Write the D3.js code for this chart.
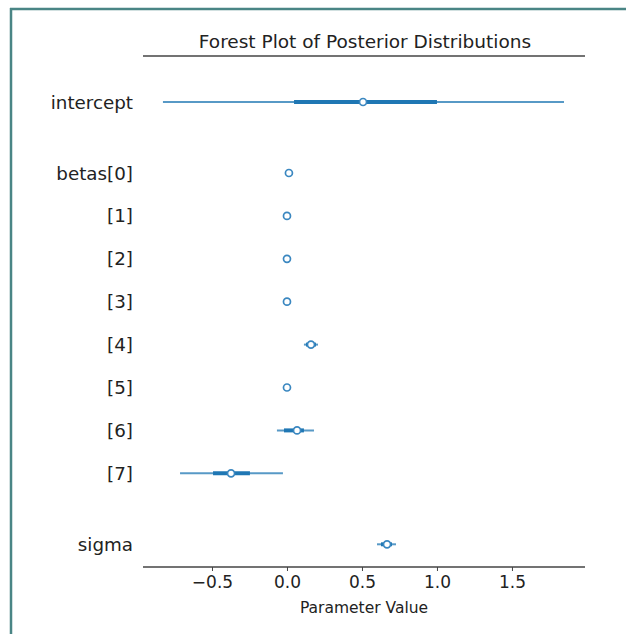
<!DOCTYPE html>
<meta charset="utf-8">
<script src="https://d3js.org/d3.v7.min.js"></script>
<style>
  body { margin: 0; background: #fff; }
  text { font-family: "DejaVu Sans", sans-serif; fill: #222; }
</style>
<body>
<script>
// parameter rows, top to bottom
var labels   = ["intercept", "betas[0]", "[1]", "[2]", "[3]", "[4]", "[5]", "[6]", "[7]", "sigma"];
var groupOf  = [0, 1, 1, 1, 1, 1, 1, 1, 1, 2];   // which group each row is in
var medians  = [0.507, 0.013, 0.0, 0.0, 0.0, 0.16, 0.0, 0.067, -0.373, 0.667];
var hdiLow   = [-0.827, 0.010, -0.003, -0.003, -0.003, 0.113, -0.003, -0.067, -0.713, 0.60];
var hdiHigh  = [1.847, 0.016, 0.003, 0.003, 0.003, 0.207, 0.003, 0.18, -0.027, 0.727];
var iqrLow   = [0.047, 0.012, -0.001, -0.001, -0.001, 0.127, -0.001, -0.02, -0.493, 0.627];
var iqrHigh  = [1.0, 0.014, 0.001, 0.001, 0.001, 0.193, 0.001, 0.113, -0.247, 0.70];
var xTicks   = [-0.5, 0.0, 0.5, 1.0, 1.5];

var W = 626, H = 634;
var svg = d3.select("body").append("svg").attr("width", W).attr("height", H);

// teal frame on the top and left
svg.append("line").attr("x1", 10).attr("y1", 9).attr("x2", W).attr("y2", 9)
  .style("stroke", "#4a8585").style("stroke-width", 2.5);
svg.append("line").attr("x1", 11).attr("y1", 8).attr("x2", 11).attr("y2", H)
  .style("stroke", "#4a8585").style("stroke-width", 2.5);

var mLeft = 143, mRight = 585, mTop = 56, mBottom = 567;

var x = d3.scaleLinear().domain([-0.96, 1.987]).range([mLeft, mRight]);

// row positions: equal step, extra space between groups
var rowY = [];
var yy = 102;
labels.forEach(function(d, i) {
  if (i > 0) yy += (groupOf[i] !== groupOf[i - 1]) ? 71 : 42.9;
  rowY.push(yy);
});

var blue = "#1f77b4";

// title
svg.append("text").attr("x", (mLeft + mRight) / 2 + 1).attr("y", 48)
  .attr("text-anchor", "middle").style("font-size", "18.5px")
  .text("Forest Plot of Posterior Distributions");
svg.append("line").attr("x1", mLeft).attr("x2", mRight).attr("y1", mTop).attr("y2", mTop)
  .style("stroke", "#444").style("stroke-width", 1.5);

// x axis
var axis = svg.append("g").attr("transform", "translate(0," + mBottom + ")")
  .call(d3.axisBottom(x).tickValues(xTicks).tickSize(4).tickPadding(5)
    .tickFormat(function(d) { return d3.format(".1f")(d).replace("-", "\u2212"); }));
axis.select(".domain").attr("d", "M" + mLeft + ",0H" + mRight)
  .style("stroke", "#444").style("stroke-width", 1.5);
axis.selectAll(".tick line").style("stroke", "#444");
axis.selectAll(".tick text").style("font-size", "17px").style("fill", "#222")
  .style("font-family", "DejaVu Sans, sans-serif");

svg.append("text").attr("x", (mLeft + mRight) / 2).attr("y", 613)
  .attr("text-anchor", "middle").style("font-size", "15.5px").text("Parameter Value");

// row labels
svg.selectAll("text.lab").data(labels).enter().append("text")
  .attr("class", "lab")
  .attr("x", 133).attr("y", function(d, i) { return rowY[i] + 6.5; })
  .attr("text-anchor", "end").style("font-size", "18.3px")
  .text(function(d) { return d; });

var rows = d3.range(labels.length);

// thin hdi lines
svg.selectAll("line.hdi").data(rows).enter().append("line")
  .attr("class", "hdi")
  .attr("x1", function(i) { return x(hdiLow[i]); })
  .attr("x2", function(i) { return x(hdiHigh[i]); })
  .attr("y1", function(i) { return rowY[i]; })
  .attr("y2", function(i) { return rowY[i]; })
  .style("stroke", blue).style("stroke-width", 2).style("opacity", 0.75);

// thick interquartile lines
svg.selectAll("line.iqr").data(rows).enter().append("line")
  .attr("class", "iqr")
  .attr("x1", function(i) { return x(iqrLow[i]); })
  .attr("x2", function(i) { return x(iqrHigh[i]); })
  .attr("y1", function(i) { return rowY[i]; })
  .attr("y2", function(i) { return rowY[i]; })
  .style("stroke", blue).style("stroke-width", 4);

// median points
svg.selectAll("circle.med").data(rows).enter().append("circle")
  .attr("class", "med")
  .attr("cx", function(i) { return x(medians[i]); })
  .attr("cy", function(i) { return rowY[i]; })
  .attr("r", 3.5)
  .style("fill", "#fff").style("stroke", "#3a87c0").style("stroke-width", 1.7);
</script>
</body>
